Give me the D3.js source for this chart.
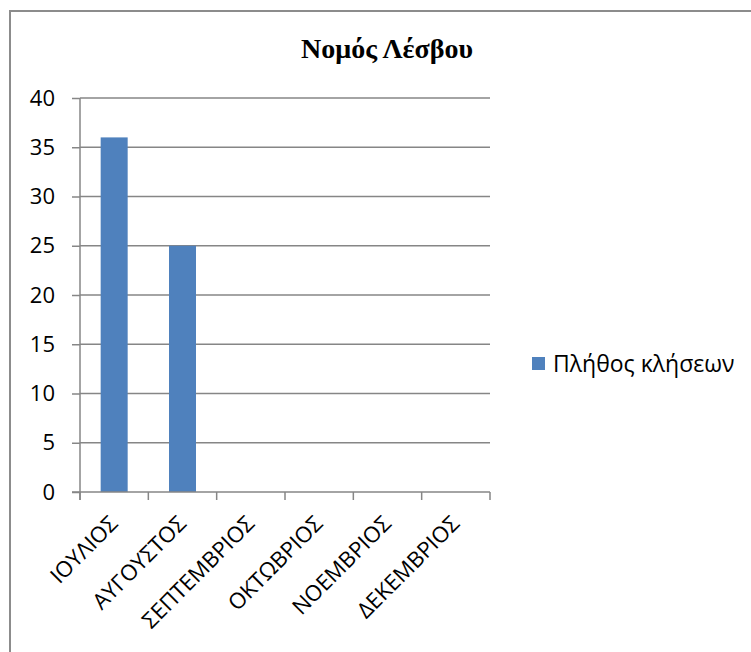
<!DOCTYPE html>
<html><head><meta charset="utf-8">
<script src="https://cdn.jsdelivr.net/npm/d3@7"></script>
<style>body{margin:0;background:#fff}svg{display:block}</style>
</head><body>
<svg id="c" width="751" height="652"></svg>
<script>
const title = "Νομός Λέσβου";
const seriesName = "Πλήθος κλήσεων";
const categories = ["ΙΟΥΛΙΟΣ","ΑΥΓΟΥΣΤΟΣ","ΣΕΠΤΕΜΒΡΙΟΣ","ΟΚΤΩΒΡΙΟΣ","ΝΟΕΜΒΡΙΟΣ","ΔΕΚΕΜΒΡΙΟΣ"];
const values = [36, 25, 0, 0, 0, 0];
const yTicks = [0,5,10,15,20,25,30,35,40];

const svg = d3.select("#c");
const font = "'Open Sans', 'Liberation Sans', sans-serif";
const grid = "#868686";
const barColor = "#4F81BD";

// chart border
svg.append("rect").attr("x",10).attr("y",11).attr("width",800).attr("height",700)
  .attr("fill","none").attr("stroke","#8c8c8c").attr("stroke-width",2);

const L = 80, R = 490, T = 98, B = 492;
const xb = d3.scaleBand().domain(categories).range([L,R]);
const y = d3.scaleLinear().domain([0,40]).range([B,T]);

// gridlines
svg.append("g").selectAll("line").data(yTicks.filter(d=>d>0)).join("line")
  .attr("x1",L).attr("x2",R).attr("y1",d=>y(d)).attr("y2",d=>y(d))
  .attr("stroke",grid).attr("stroke-width",1.5);

// bars
svg.append("g").selectAll("rect").data(categories.map((c,i)=>({c,v:values[i]})).filter(d=>d.v>0)).join("rect")
  .attr("x",d=>xb(d.c)+xb.bandwidth()/2-13.5).attr("width",27)
  .attr("y",d=>y(d.v)).attr("height",d=>B-y(d.v)).attr("fill",barColor);

// y axis
const ya = svg.append("g").attr("transform",`translate(${L},0)`)
  .call(d3.axisLeft(y).tickValues(yTicks).tickSize(8).tickPadding(17).tickFormat(d3.format("d")));
ya.select(".domain").attr("stroke",grid).attr("stroke-width",1.5).attr("d",`M-0,${T}V${B+8}`);
ya.selectAll(".tick line").attr("stroke",grid).attr("stroke-width",1.5);
ya.selectAll(".tick text").attr("font-family",font).attr("font-size",22).attr("fill","#000");

// x axis line and ticks
const xa = svg.append("g");
xa.append("line").attr("x1",L-8).attr("x2",R).attr("y1",B).attr("y2",B).attr("stroke",grid).attr("stroke-width",1.5);
const bounds = categories.map(c=>xb(c)).concat([R]);
xa.selectAll("line.t").data(bounds).join("line").attr("class","t")
  .attr("x1",d=>d).attr("x2",d=>d).attr("y1",B).attr("y2",B+8)
  .attr("stroke",grid).attr("stroke-width",1.5);
xa.selectAll("text").data(categories).join("text")
  .attr("transform",c=>`translate(${xb(c)+xb.bandwidth()/2+5},${B+33}) rotate(-45)`)
  .attr("text-anchor","end").attr("font-family",font).attr("font-size",22).attr("fill","#000")
  .text(d=>d);

// title
svg.append("text").attr("x",387).attr("y",58).attr("text-anchor","middle")
  .attr("font-family","'Liberation Serif', 'DejaVu Serif', serif").attr("font-weight","bold")
  .attr("font-size",28).attr("fill","#000").text(title);

// legend
svg.append("rect").attr("x",532).attr("y",357).attr("width",13).attr("height",13).attr("fill",barColor);
svg.append("text").attr("x",553).attr("y",372).attr("font-family",font).attr("font-size",23)
  .attr("fill","#000").text(seriesName);
</script>
</body></html>
